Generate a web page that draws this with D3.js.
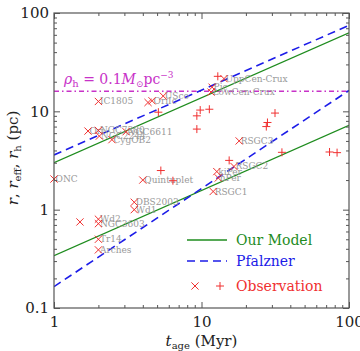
<!DOCTYPE html>
<html>
<head>
<meta charset="utf-8">
<script src="https://cdn.jsdelivr.net/npm/d3@7"></script>
<style>
  body { margin: 0; background: #fff; }
</style>
</head>
<body>
<svg id="chart" width="360" height="351"></svg>
<script>
// clusters drawn with an x marker (age in Myr, radius in pc)
const crossName = ["ONC", "Quintuplet", "DBS2003", "Wd1", "", "Wd2", "NGC3603", "Tr14", "Arches",
  "IC1805", "Ori", "NGC7380", "NGC2244", "CygOB2", "NGC6611", "", "OriIc", "USco",
  "UppCen-Crux", "Pic", "LowCen-Crux", "RSGC3", "RSGC2", "kiPer", "hPer", "RSGC1"];
const crossAge = [1.0, 4.0, 3.5, 3.5, 1.5, 2.0, 2.0, 2.0, 2.0,
  2.0, 1.7, 2.0, 2.03, 2.47, 3.08, 4.34, 4.62, 5.5,
  14.2, 11.8, 11.6, 18.0, 16.6, 12.7, 13.0, 12.0];
const crossR = [2.05, 2.0, 1.19, 1.0, 0.75, 0.8, 0.72, 0.5, 0.39,
  12.6, 6.3, 6.4, 5.6, 5.15, 6.2, 12.3, 12.8, 14.3,
  21.5, 17.6, 15.7, 5.0, 2.75, 2.44, 2.1, 1.53];

// clusters drawn with a + marker
const plusAge = [5.1, 5.3, 6.4, 12.9, 9.8, 11.3, 9.3, 9.3, 31.5, 28.0, 27.5, 35.1, 73.8, 83, 15.4];
const plusR = [9.8, 2.5, 1.97, 22.7, 10.3, 10.5, 9.0, 6.6, 9.6, 7.7, 7.0, 3.83, 3.86, 3.8, 3.17];

// fitted relations, end points
const modelUpper = [[1, 3.0], [100, 63]];
const modelLower = [[1, 0.34], [100, 7.2]];
const pfalznerUpper = [[1, 3.6], [100, 75]];
const pfalznerLower = [[1, 0.165], [100, 16.3]];
const rhoLevel = 16;

const xTicks = [1, 10, 100];
const yTicks = [0.1, 1, 10, 100];
const legendLabels = ["Our Model", "Pfalzner", "Observation"];

const green = "#1e8c1e", blue = "#1c1ce8", red = "#f03030", magenta = "#c832c8", gray = "#999";
const serif = "'DejaVu Serif', 'Liberation Serif', serif";

const svg = d3.select("#chart");
const m = {left: 54, right: 11, top: 13, bottom: 43};
const W = 360 - m.left - m.right, H = 351 - m.top - m.bottom;
const g = svg.append("g").attr("transform", `translate(${m.left},${m.top})`);

const x = d3.scaleLog().domain([1, 100]).range([0, W]);
const y = d3.scaleLog().domain([0.1, 100]).range([H, 0]);

// minor tick positions
const minors = dom => {
  let out = [];
  for (let d = dom[0]; d < dom[1]; d *= 10)
    for (let k = 2; k <= 9; k++) out.push(d * k);
  return out;
};

g.append("clipPath").attr("id", "clip").append("rect").attr("width", W).attr("height", H);
const plot = g.append("g").attr("clip-path", "url(#clip)");

// density line
plot.append("line")
  .attr("x1", x(1)).attr("x2", x(100))
  .attr("y1", y(rhoLevel)).attr("y2", y(rhoLevel))
  .style("stroke", magenta).style("stroke-width", 1.3)
  .style("stroke-dasharray", "5,3,1.5,3");

const line = d3.line().x(d => x(d[0])).y(d => y(d[1]));
[modelUpper, modelLower].forEach(d => {
  plot.append("path").attr("d", line(d)).attr("fill", "none")
    .style("stroke", green).style("stroke-width", 1.3);
});
[pfalznerUpper, pfalznerLower].forEach(d => {
  plot.append("path").attr("d", line(d)).attr("fill", "none")
    .style("stroke", blue).style("stroke-width", 1.6).style("stroke-dasharray", "8,5");
});

// labels
g.append("g").selectAll("text")
  .data(crossName.map((n, i) => [n, crossAge[i], crossR[i]]).filter(d => d[0]))
  .enter()
  .append("text")
  .attr("x", d => x(d[1]) + 1.5)
  .attr("y", d => y(d[2]) + 3)
  .style("font-size", "9px")
  .style("fill", gray)
  .text(d => d[0]);

const crossPath = s => `M${-s},${-s}L${s},${s}M${-s},${s}L${s},${-s}`;
const plusPath = s => `M${-s},0L${s},0M0,${-s}L0,${s}`;

g.append("g").selectAll("path")
  .data(crossAge.map((a, i) => [a, crossR[i]]))
  .enter()
  .append("path")
  .attr("transform", d => `translate(${x(d[0])},${y(d[1])})`)
  .attr("d", crossPath(3.6))
  .style("stroke", red).style("stroke-width", 1).style("fill", "none");

g.append("g").selectAll("path")
  .data(plusAge.map((a, i) => [a, plusR[i]]))
  .enter()
  .append("path")
  .attr("transform", d => `translate(${x(d[0])},${y(d[1])})`)
  .attr("d", plusPath(4))
  .style("stroke", red).style("stroke-width", 1).style("fill", "none");

// axes with inward ticks
const fmt = d => d3.format("~g")(d);
const axisColor = "#555";
const addAxis = (ax, tr, labels) => {
  const a = g.append("g").attr("transform", tr).call(ax);
  a.selectAll("line").style("stroke", axisColor);
  a.select(".domain").remove();
  a.selectAll("text").style("font-size", "15px").style("fill", "#222");
  if (!labels) a.selectAll("text").remove();
};
addAxis(d3.axisBottom(x).tickValues(xTicks).tickFormat(fmt).tickSize(-6).tickPadding(8), `translate(0,${H})`, true);
addAxis(d3.axisBottom(x).tickValues(minors([1, 100])).tickSize(-3), `translate(0,${H})`, false);
addAxis(d3.axisTop(x).tickValues(xTicks).tickSize(-6), "translate(0,0)", false);
addAxis(d3.axisTop(x).tickValues(minors([1, 100])).tickSize(-3), "translate(0,0)", false);
addAxis(d3.axisLeft(y).tickValues(yTicks).tickFormat(fmt).tickSize(-6).tickPadding(5), "translate(0,0)", true);
addAxis(d3.axisLeft(y).tickValues(minors([0.1, 100])).tickSize(-3), "translate(0,0)", false);
addAxis(d3.axisRight(y).tickValues(yTicks).tickSize(-6), `translate(${W},0)`, false);
addAxis(d3.axisRight(y).tickValues(minors([0.1, 100])).tickSize(-3), `translate(${W},0)`, false);

g.append("rect").attr("width", W).attr("height", H)
  .style("fill", "none").style("stroke", axisColor).style("stroke-width", 1.2);

// density label
const rl = g.append("text").attr("x", 10).attr("y", 71)
  .style("font-size", "14px").style("fill", magenta);
rl.append("tspan").style("font-style", "italic").text("ρ");
rl.append("tspan").attr("dy", 3).style("font-size", "10px").text("h");
rl.append("tspan").attr("dy", -3).text(" = 0.1");
rl.append("tspan").style("font-style", "italic").text("M");
rl.append("tspan").attr("dy", 3).style("font-size", "9px").text("⊙");
rl.append("tspan").attr("dy", -3).text("pc");
rl.append("tspan").attr("dy", -6).style("font-size", "9px").text("−3");

// legend
const lg = g.append("g").attr("transform", `translate(${187 - m.left},${240 - m.top})`);
const rows = [0, 21, 46];
lg.append("line").attr("x1", 0).attr("x2", 40).attr("y1", rows[0]).attr("y2", rows[0])
  .style("stroke", green).style("stroke-width", 1.3);
lg.append("line").attr("x1", 0).attr("x2", 40).attr("y1", rows[1]).attr("y2", rows[1])
  .style("stroke", blue).style("stroke-width", 1.6).style("stroke-dasharray", "8,5");
lg.append("path").attr("transform", `translate(8,${rows[2]})`).attr("d", crossPath(3.6))
  .style("stroke", red).style("fill", "none");
lg.append("path").attr("transform", `translate(33,${rows[2]})`).attr("d", plusPath(4))
  .style("stroke", red).style("fill", "none");
lg.selectAll("text.leg")
  .data(legendLabels)
  .enter()
  .append("text")
  .attr("class", "leg")
  .attr("x", 49)
  .attr("y", (d, i) => rows[i] + 5)
  .style("font-size", "14px")
  .style("fill", (d, i) => [green, blue, red][i])
  .text(d => d);

// axis titles
const xl = svg.append("text").attr("x", m.left + x(10)).attr("y", 346)
  .attr("text-anchor", "middle").style("font-size", "15px").style("fill", "#222");
xl.append("tspan").style("font-style", "italic").text("t");
xl.append("tspan").attr("dy", 3).style("font-size", "10px").text("age");
xl.append("tspan").attr("dy", -3).text(" (Myr)");

const yl = svg.append("text").attr("transform", "translate(18,158) rotate(-90)")
  .attr("text-anchor", "middle").style("font-size", "15px").style("fill", "#222");
yl.append("tspan").style("font-style", "italic").text("r");
yl.append("tspan").text(", ");
yl.append("tspan").style("font-style", "italic").text("r");
yl.append("tspan").attr("dy", 3).style("font-size", "10px").text("eff");
yl.append("tspan").attr("dy", -3).text(", ");
yl.append("tspan").style("font-style", "italic").text("r");
yl.append("tspan").attr("dy", 3).style("font-size", "10px").text("h");
yl.append("tspan").attr("dy", -3).text(" (pc)");

// serif everywhere, like the original figure
svg.selectAll("text").style("font-family", serif);
</script>
</body>
</html>
